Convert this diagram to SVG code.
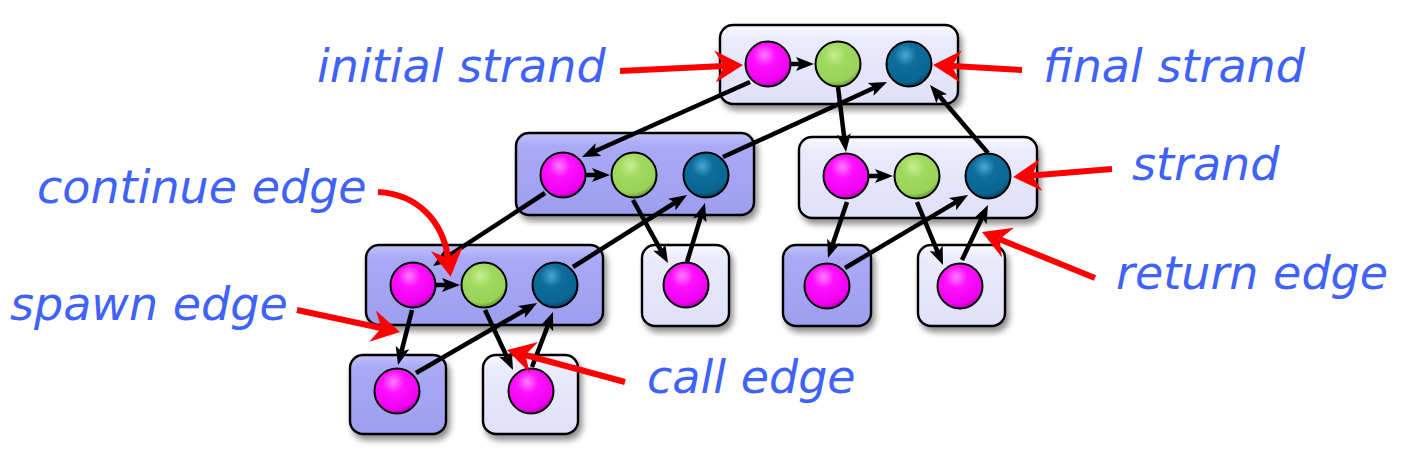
<svg xmlns="http://www.w3.org/2000/svg" width="1407" height="463" viewBox="0 0 1407 463">
<defs>
<linearGradient id="gDark" x1="0" y1="0" x2="0" y2="1">
<stop offset="0" stop-color="#c2c2fa"/><stop offset="0.16" stop-color="#a9a9f6"/><stop offset="1" stop-color="#9e9ef0"/>
</linearGradient>
<linearGradient id="gLight" x1="0" y1="0" x2="0" y2="1">
<stop offset="0" stop-color="#fafaff"/><stop offset="0.16" stop-color="#ebebfc"/><stop offset="1" stop-color="#dfdff8"/>
</linearGradient>
<radialGradient id="gMag" cx="0.42" cy="0.3" r="0.7">
<stop offset="0" stop-color="#ff7cff"/><stop offset="0.35" stop-color="#ff10ff"/><stop offset="0.85" stop-color="#f000f0"/><stop offset="1" stop-color="#b000b0"/>
</radialGradient>
<radialGradient id="gGrn" cx="0.42" cy="0.3" r="0.7">
<stop offset="0" stop-color="#c8f090"/><stop offset="0.35" stop-color="#a2da60"/><stop offset="0.85" stop-color="#98d258"/><stop offset="1" stop-color="#6a9a34"/>
</radialGradient>
<radialGradient id="gBlu" cx="0.42" cy="0.3" r="0.7">
<stop offset="0" stop-color="#4aa6d6"/><stop offset="0.35" stop-color="#0e6d9c"/><stop offset="0.85" stop-color="#0a6592"/><stop offset="1" stop-color="#05405e"/>
</radialGradient>
<filter id="sh" x="-20%" y="-20%" width="150%" height="160%">
<feGaussianBlur in="SourceAlpha" stdDeviation="3"/>
<feOffset dx="3" dy="5" result="b"/>
<feComponentTransfer><feFuncA type="linear" slope="0.45"/></feComponentTransfer>
<feMerge><feMergeNode/><feMergeNode in="SourceGraphic"/></feMerge>
</filter>
<marker id="ab" markerUnits="userSpaceOnUse" markerWidth="40" markerHeight="40" viewBox="-20 -20 40 40" refX="0" refY="0" orient="auto">
<path d="M-4,-7 L14,0 L-4,7 L0,0 Z" fill="#000"/>
</marker>
<marker id="ar" markerUnits="userSpaceOnUse" markerWidth="60" markerHeight="60" viewBox="-30 -30 60 60" refX="0" refY="0" orient="auto">
<path d="M-9,-16 L19,0 L-9,16 L0,0 Z" fill="#ff0000"/>
</marker>
<style>
.fd{fill:url(#gDark);stroke:#000;stroke-width:2.4;filter:url(#sh)}
.fl{fill:url(#gLight);stroke:#000;stroke-width:2.4;filter:url(#sh)}
.m{fill:url(#gMag);stroke:#000;stroke-width:2}
.g{fill:url(#gGrn);stroke:#000;stroke-width:2}
.b{fill:url(#gBlu);stroke:#000;stroke-width:2}
.e{fill:none;stroke:#000;stroke-width:4.5;marker-end:url(#ab)}
.r{fill:none;stroke:#ff0000;stroke-width:6;marker-end:url(#ar)}
.t{font-family:"DejaVu Sans","Liberation Sans",sans-serif;font-style:italic;font-size:46px;fill:#3f62f8}
</style>
</defs>

<g id="frames">
<g id="frame-top"><rect class="fl" x="720" y="25" width="238" height="79" rx="13"/></g>
<g id="frame-2a"><rect class="fd" x="516" y="133" width="238" height="82" rx="13"/></g>
<g id="frame-2b"><rect class="fl" x="799" y="137" width="238" height="81" rx="13"/></g>
<g id="frame-3a"><rect class="fd" x="366" y="245" width="237" height="80" rx="13"/></g>
<g id="frame-3b"><rect class="fl" x="642" y="245" width="87" height="81" rx="13"/></g>
<g id="frame-3c"><rect class="fd" x="783" y="245" width="88" height="81" rx="13"/></g>
<g id="frame-3d"><rect class="fl" x="918" y="245" width="87" height="81" rx="13"/></g>
<g id="frame-4a"><rect class="fd" x="350" y="355" width="96" height="79" rx="13"/></g>
<g id="frame-4b"><rect class="fl" x="483" y="355" width="95" height="79" rx="13"/></g>
</g>

<g id="connectors">
<path class="e" d="M790,64 L800,64"/>
<path class="e" d="M750,82 L594.8,151.3"/>
<path class="e" d="M838,87 L844.3,138.1"/>
<path class="e" d="M723,157 L874.3,87.8"/>
<path class="e" d="M988,153 L939.1,95.7"/>
<path class="e" d="M585,175 L596,175"/>
<path class="e" d="M545,193 L444.7,258.4"/>
<path class="e" d="M633,200 L661.2,250.8"/>
<path class="e" d="M687,262 L700.9,216.4"/>
<path class="e" d="M573,267 L675.2,202.5"/>
<path class="e" d="M868,176 L879,176"/>
<path class="e" d="M847,202 L832.5,244.7"/>
<path class="e" d="M917,202 L937.7,252.1"/>
<path class="e" d="M962,260 L982,217.7"/>
<path class="e" d="M845,268 L956,202.1"/>
<path class="e" d="M435,285 L446,285"/>
<path class="e" d="M412,310 L401.5,351.4"/>
<path class="e" d="M485,310 L507.1,357.3"/>
<path class="e" d="M532,367 L548,325.1"/>
<path class="e" d="M416,373 L524.9,310"/>
</g>

<g id="strands">
<g id="s-top-1"><circle class="m" cx="768" cy="64" r="22.5"/></g>
<g id="s-top-2"><circle class="g" cx="838" cy="64" r="22.5"/></g>
<g id="s-top-3"><circle class="b" cx="909" cy="64" r="22.5"/></g>
<g id="s-2a-1"><circle class="m" cx="563" cy="175" r="22.5"/></g>
<g id="s-2a-2"><circle class="g" cx="634" cy="175" r="22.5"/></g>
<g id="s-2a-3"><circle class="b" cx="706" cy="175" r="22.5"/></g>
<g id="s-2b-1"><circle class="m" cx="846" cy="176" r="22.5"/></g>
<g id="s-2b-2"><circle class="g" cx="917" cy="176" r="22.5"/></g>
<g id="s-2b-3"><circle class="b" cx="988" cy="176" r="22.5"/></g>
<g id="s-3a-1"><circle class="m" cx="413" cy="285" r="22.5"/></g>
<g id="s-3a-2"><circle class="g" cx="484" cy="285" r="22.5"/></g>
<g id="s-3a-3"><circle class="b" cx="555" cy="285" r="22.5"/></g>
<g id="s-3b"><circle class="m" cx="686" cy="285" r="22.5"/></g>
<g id="s-3c"><circle class="m" cx="827" cy="286" r="22.5"/></g>
<g id="s-3d"><circle class="m" cx="960" cy="286" r="22.5"/></g>
<g id="s-4a"><circle class="m" cx="397" cy="391" r="22.5"/></g>
<g id="s-4b"><circle class="m" cx="531" cy="391" r="22.5"/></g>
</g>

<g id="callouts">
<path class="r" d="M620,71 L724,66"/>
<path class="r" d="M1022,70 L952,66"/>
<path class="r" d="M1112,169 L1032,175.5"/>
<path class="r" d="M1095,278 L999.6,239.2"/>
<path class="r" d="M378,192 C418,194 443,222 448,258"/>
<path class="r" d="M297,310 L381.4,328"/>
<path class="r" d="M625,382 L525.3,355"/>
</g>

<g id="labels">
<text class="t" x="317" y="82">initial strand</text>
<text class="t" x="1043" y="82">final strand</text>
<text class="t" x="1132" y="180">strand</text>
<text class="t" x="37" y="203">continue edge</text>
<text class="t" x="1116" y="289">return edge</text>
<text class="t" x="10" y="320">spawn edge</text>
<text class="t" x="647" y="393">call edge</text>
</g>
</svg>
